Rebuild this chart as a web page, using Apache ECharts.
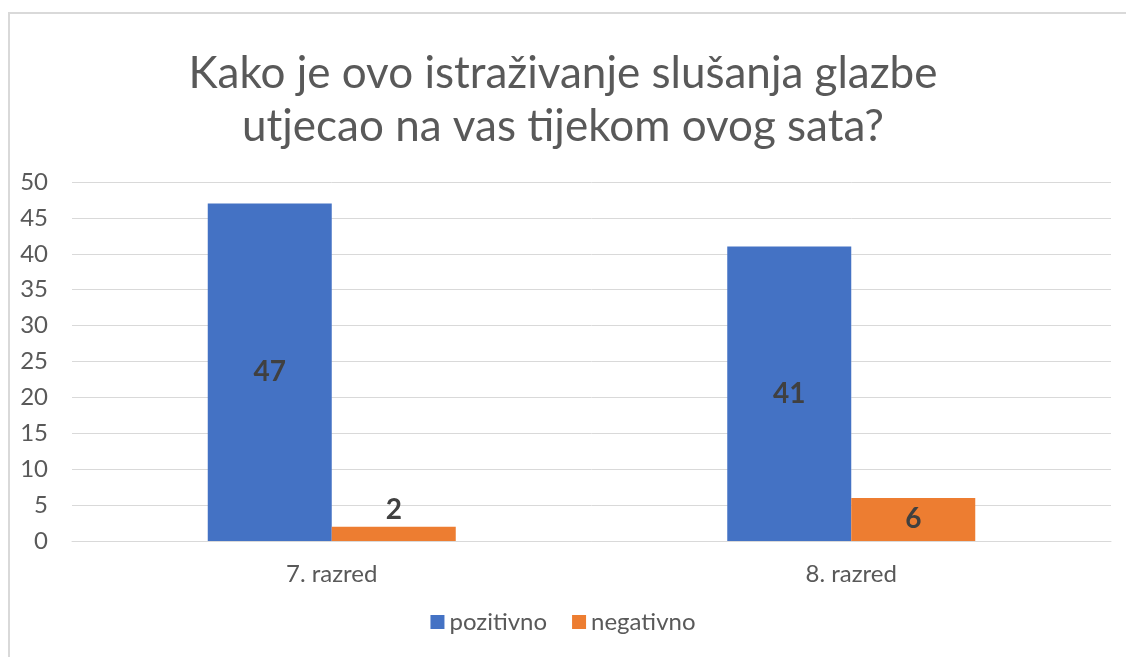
<!DOCTYPE html>
<html>
<head>
<meta charset="utf-8">
<script src="https://cdn.jsdelivr.net/npm/echarts@6/dist/echarts.min.js"></script>
<style>
  html, body { margin: 0; padding: 0; background: #fff; }
  #chart { width: 1126px; height: 657px; }
</style>
</head>
<body>
<div id="chart"></div>
<script>
const categories = ['7. razred', '8. razred']
const pozitivno = [47, 41]
const negativno = [2, 6]
const yTicks = {min: 0, max: 50, interval: 5}

const font = 'Lato, "Open Sans", sans-serif'
const textColor = '#595959'

// small bars get their label above the bar, like the original
const withLabels = (values) =>
  values.map((v) => (v < 4 ? {value: v, label: {position: 'top', distance: 3}} : v))

const chart = echarts.init(document.getElementById('chart'), null, {renderer: 'canvas'})

chart.setOption({
  animation: false,
  textStyle: {fontFamily: font},
  title: {
    text: 'Kako je ovo istraživanje slušanja glazbe\nutjecao na vas tijekom ovog sata?',
    left: 'center',
    top: 42,
    textStyle: {fontFamily: font, fontSize: 44, fontWeight: 'normal', color: textColor, lineHeight: 53},
  },
  graphic: [{
    type: 'polyline',
    shape: {points: [[9, 700], [9, 13], [1200, 13]]},
    style: {stroke: '#d9d9d9', lineWidth: 2, fill: null},
  }],
  legend: {
    bottom: 18,
    left: 'center',
    itemWidth: 14,
    itemHeight: 14,
    itemGap: 25,
    icon: 'rect',
    textStyle: {fontFamily: font, fontSize: 24, color: textColor},
  },
  grid: {left: 72, right: 15, top: 182, bottom: 116},
  xAxis: {
    type: 'category',
    data: categories,
    axisLine: {lineStyle: {color: '#d9d9d9', width: 1}},
    axisTick: {show: false},
    axisLabel: {fontFamily: font, fontSize: 24, color: textColor, margin: 21},
  },
  yAxis: {
    type: 'value',
    ...yTicks,
    axisLine: {show: false},
    axisTick: {show: false},
    splitLine: {lineStyle: {color: '#d9d9d9', width: 1}},
    axisLabel: {fontFamily: font, fontSize: 24, color: textColor, margin: 24},
  },
  series: [
    {
      name: 'pozitivno',
      type: 'bar',
      data: withLabels(pozitivno),
      itemStyle: {color: '#4472C4'},
      barWidth: 124,
      barGap: '0%',
      label: {show: true, position: 'inside', fontFamily: font, fontSize: 28, fontWeight: 'bold', color: '#404040'},
    },
    {
      name: 'negativno',
      type: 'bar',
      data: withLabels(negativno),
      itemStyle: {color: '#ED7D31'},
      barWidth: 124,
      barGap: '0%',
      label: {show: true, position: 'inside', fontFamily: font, fontSize: 28, fontWeight: 'bold', color: '#404040'},
    },
  ],
})
</script>
</body>
</html>
